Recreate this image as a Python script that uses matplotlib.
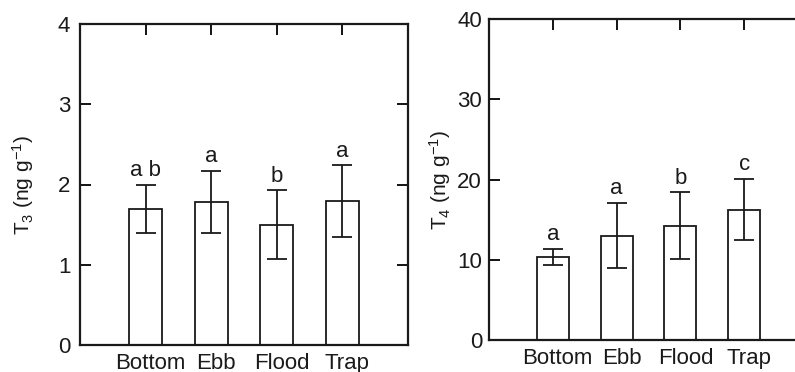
import matplotlib
matplotlib.use("Agg")
import matplotlib.pyplot as plt
from matplotlib.transforms import ScaledTranslation

plt.rcParams['font.family'] = ['Liberation Sans', 'DejaVu Sans']
plt.rcParams['mathtext.default'] = 'regular'

categories = ["Bottom", "Ebb", "Flood", "Trap"]

t3_mean = [1.70, 1.78, 1.49, 1.79]
t3_upper = [2.00, 2.17, 1.93, 2.24]
t3_lower = [1.40, 1.40, 1.07, 1.35]
t3_letters = ["a b", "a", "b", "a"]

t4_mean = [10.4, 13.0, 14.2, 16.25]
t4_upper = [11.4, 17.1, 18.4, 20.1]
t4_lower = [9.35, 9.0, 10.05, 12.4]
t4_letters = ["a", "a", "b", "c"]

W, H = 795, 372
fig = plt.figure(figsize=(W / 100, H / 100), dpi=100)
INK = '#1a1a1a'

def px_axes(l, r, t, b):
    return fig.add_axes([l / W, (H - b) / H, (r - l) / W, (b - t) / H])

def panel(ax, mean, upper, lower, letters, ymax, yticks, ylabel, label_x, ypad):
    x = list(range(1, len(categories) + 1))
    yerr = [[m - lo for m, lo in zip(mean, lower)],
            [u - m for m, u in zip(mean, upper)]]
    ax.bar(x, mean, width=0.5, color='white', edgecolor=INK,
           linewidth=1.3, zorder=2)
    ax.errorbar(x, mean, yerr=yerr, fmt='none', ecolor=INK,
                elinewidth=1.3, capsize=7, capthick=1.3, zorder=3)
    for xi, u, lab in zip(x, upper, letters):
        ax.annotate(lab, (xi, u), xytext=(0, 2.5), textcoords='offset points',
                    ha='center', va='bottom', fontsize=16, color=INK)
    ax.set_xlim(0, 5)
    ax.set_ylim(0, ymax)
    ax.set_xticks(x)
    ax.set_xticklabels(categories, fontsize=16, color=INK)
    ax.set_yticks(yticks)
    ax.set_yticklabels([str(v) for v in yticks], fontsize=16, color=INK)
    ax.tick_params(axis='x', direction='in', length=8, width=1.3,
                   top=True, bottom=True, pad=6)
    ax.tick_params(axis='y', direction='in', length=8, width=1.3,
                   left=True, right=True, pad=ypad)
    shift = ScaledTranslation(5 / 100, 0, fig.dpi_scale_trans)
    for lbl in ax.get_xticklabels():
        lbl.set_transform(lbl.get_transform() + shift)
    for s in ax.spines.values():
        s.set_linewidth(1.6)
        s.set_color(INK)
    ax.set_ylabel(ylabel, fontsize=15, color=INK, va='center')
    ax.yaxis.set_label_coords(label_x, 0.5)

ax1 = px_axes(80, 408, 24, 345)
panel(ax1, t3_mean, t3_upper, t3_lower, t3_letters, 4, [0, 1, 2, 3, 4],
      'T$_3$ (ng g$^{-1}$)', -0.175, 7)

ax2 = px_axes(489, 808, 19, 340)
panel(ax2, t4_mean, t4_upper, t4_lower, t4_letters, 40, [0, 10, 20, 30, 40],
      'T$_4$ (ng g$^{-1}$)', -0.152, 5)

fig.savefig("out.png", dpi=100)
